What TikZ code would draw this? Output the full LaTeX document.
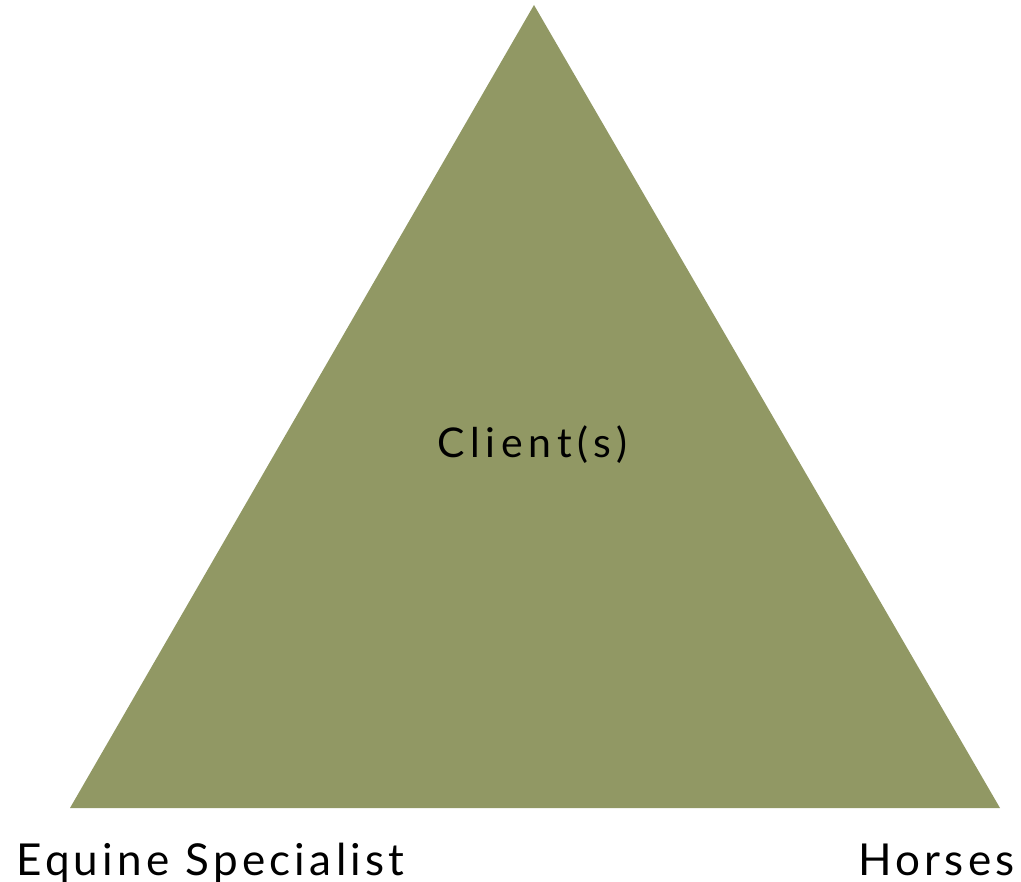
\documentclass[tikz,border=0pt]{standalone}
\usepackage{fontspec}
\setmainfont{Lato}
\newfontfamily\labelfont[LetterSpace=9.8]{Lato}
\newfontfamily\centerfont[LetterSpace=14]{Lato}
\usepackage{tikz}
\definecolor{olive}{HTML}{919864}

\begin{document}
\begin{tikzpicture}[x=1pt,y=-1pt]
  \useasboundingbox (0,0) rectangle (1021,882);
  \coordinate (top) at (534,5);\coordinate (left) at (70,808);\coordinate (right) at (1000,808);
  \fill[olive] (top) -- (left) -- (right) -- cycle;

  \node[anchor=base west,inner sep=0pt,font=\centerfont\fontsize{41}{48}\selectfont] (client) at (437,458) {Client(s)};
  \node[anchor=base west,inner sep=0pt,font=\labelfont\fontsize{44}{52}\selectfont] (specialist) at (16,875) {Equine Specialist};
  \node[anchor=base east,inner sep=0pt,font=\labelfont\fontsize{44}{52}\selectfont] (horses) at (1015,875) {Horses};
\end{tikzpicture}
\end{document}
